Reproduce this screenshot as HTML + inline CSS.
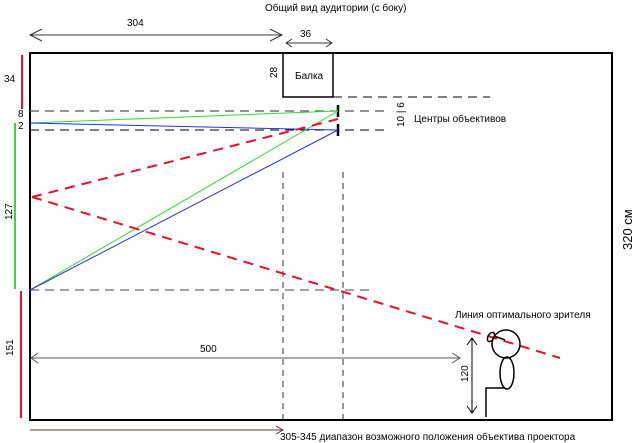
<!DOCTYPE html>
<html><head><meta charset="utf-8"><style>
html,body{margin:0;padding:0;background:#fff}
svg{display:block}
text{font-family:"Liberation Sans",sans-serif;font-size:10px;fill:#000}
</style></head><body>
<svg width="640" height="443" viewBox="0 0 640 443" xmlns="http://www.w3.org/2000/svg">
<rect width="640" height="443" fill="#fff"/>
<text x="265" y="11">Общий вид аудитории (с боку)</text>
<line x1="30" y1="35" x2="282" y2="35" stroke="#333" stroke-width="1"/>
<polyline points="42,29 30,35 42,41" fill="none" stroke="#333"/>
<polyline points="270,29 282,35 270,41" fill="none" stroke="#333"/>
<text x="127" y="26">304</text>
<line x1="286" y1="43" x2="332" y2="43" stroke="#333"/>
<polyline points="292,39 286,43 292,47" fill="none" stroke="#333"/>
<polyline points="326,39 332,43 326,47" fill="none" stroke="#333"/>
<text x="300" y="37">36</text>
<rect x="30" y="53" width="582" height="367" fill="none" stroke="#000" stroke-width="2"/>
<rect x="283" y="53" width="50" height="44" fill="none" stroke="#000" stroke-width="1.5"/>
<text x="295" y="79">Балка</text>
<text transform="translate(277,78) rotate(-90)">28</text>
<line x1="333" y1="97" x2="490" y2="97" stroke="#000" stroke-dasharray="9,6"/>
<line x1="30" y1="111" x2="390" y2="111" stroke="#555" stroke-width="1.3" stroke-dasharray="9,6"/>
<line x1="30" y1="130" x2="390" y2="130" stroke="#000" stroke-dasharray="9,6"/>
<line x1="30" y1="290" x2="375" y2="290" stroke="#444" stroke-dasharray="9,6"/>
<line x1="283" y1="172" x2="283" y2="420" stroke="#333" stroke-dasharray="6,5"/>
<line x1="343" y1="172" x2="343" y2="420" stroke="#333" stroke-dasharray="6,5"/>
<line x1="338" y1="105" x2="338" y2="117" stroke="#000" stroke-width="2.5"/>
<line x1="338" y1="124" x2="338" y2="136" stroke="#000" stroke-width="2.5"/>
<text transform="translate(404,127) rotate(-90)">10 | 6</text>
<text x="414" y="122">Центры объективов</text>
<line x1="30" y1="123" x2="338" y2="111" stroke="#33dd33"/>
<line x1="30" y1="123" x2="338" y2="130" stroke="#2233dd"/>
<line x1="30" y1="290" x2="338" y2="111" stroke="#33dd33"/>
<line x1="30" y1="290" x2="338" y2="130" stroke="#2233dd"/>
<line x1="32" y1="197" x2="338" y2="119" stroke="#e8102a" stroke-width="2" stroke-dasharray="10,7"/>
<line x1="32" y1="197" x2="560" y2="358" stroke="#e8102a" stroke-width="2" stroke-dasharray="10,7"/>
<line x1="22" y1="55" x2="22" y2="109" stroke="#e8102a" stroke-width="2"/>
<text x="4" y="82">34</text>
<text x="18" y="117">8</text>
<text x="18" y="129">2</text>
<line x1="15" y1="123" x2="15" y2="289" stroke="#33dd33" stroke-width="2"/>
<text transform="translate(12,220) rotate(-90)">127</text>
<line x1="21" y1="291" x2="21" y2="418" stroke="#e8102a" stroke-width="2"/>
<text transform="translate(13,356) rotate(-90)">151</text>
<line x1="30" y1="358" x2="460" y2="358" stroke="#555"/>
<polyline points="38,353 31,358 38,363" fill="none" stroke="#555"/>
<polyline points="452,353 460,358 452,363" fill="none" stroke="#555"/>
<text x="200" y="352">500</text>
<line x1="30" y1="430" x2="283" y2="430" stroke="#633"/>
<polyline points="276,426 283,430 276,434" fill="none" stroke="#633"/>
<text x="280" y="440">305-345 диапазон возможного положения объектива проектора</text>
<text transform="translate(632,250) rotate(-90)" style="font-size:13px">320 см</text>
<text x="455" y="318">Линия оптимального зрителя</text>
<line x1="472" y1="338" x2="472" y2="413" stroke="#000"/>
<polyline points="467,345 472,338 477,345" fill="none" stroke="#000"/>
<polyline points="467,406 472,413 477,406" fill="none" stroke="#000"/>
<text transform="translate(468,382) rotate(-90)">120</text>
<circle cx="506" cy="344" r="14" fill="none" stroke="#000" stroke-width="1.5"/>
<ellipse cx="491" cy="337" rx="3" ry="5" transform="rotate(30 491 337)" fill="none" stroke="#000" stroke-width="1.5"/>
<line x1="494" y1="336" x2="505" y2="340" stroke="#000" stroke-width="1.5"/>
<ellipse cx="507" cy="373" rx="7" ry="16" fill="none" stroke="#000" stroke-width="1.5"/>
<polyline points="486,417 486,388 505,388" fill="none" stroke="#000" stroke-width="1.5"/>
</svg>
</body></html>
